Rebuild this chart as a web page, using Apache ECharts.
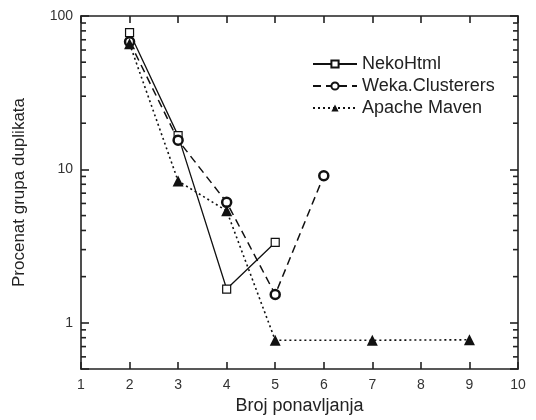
<!DOCTYPE html>
<html>
<head>
<meta charset="utf-8">
<script src="https://cdn.jsdelivr.net/npm/echarts@6/dist/echarts.min.js"></script>
<style>html,body{margin:0;padding:0;background:#fff}#c{width:536px;height:420px}</style>
</head>
<body>
<div id="c"></div>
<script>
var xTicks = [1, 2, 3, 4, 5, 6, 7, 8, 9, 10];
var yMajor = [1, 10, 100];
var yMinor = [0.6, 0.7, 0.8, 0.9, 2, 3, 4, 5, 6, 7, 8, 9, 20, 30, 40, 50, 60, 70, 80, 90];

var nekoX = [2, 3, 4, 5];
var nekoY = [78, 16.6, 1.66, 3.34];
var wekaX = [2, 3, 4, 5, 6];
var wekaY = [68, 15.5, 6.1, 1.53, 9.1];
var mavenX = [2, 3, 4, 5, 7, 9];
var mavenY = [66, 8.4, 5.37, 0.77, 0.77, 0.775];

function pairs(xs, ys) { return xs.map(function (x, i) { return [x, ys[i]]; }); }

var FONT = "'Liberation Sans', Arial, sans-serif";
var AX = '#222';

var chart = echarts.init(document.getElementById('c'));
var axisCommonX = {
  type: 'value', min: xTicks[0], max: xTicks[xTicks.length - 1], interval: 1,
  axisLine: { show: true, onZero: false, lineStyle: { color: AX, width: 1.6 } },
  axisTick: { show: true, inside: true, length: 7, lineStyle: { color: AX, width: 1.6 } },
  splitLine: { show: false }
};
var axisCommonY = {
  type: 'log', logBase: 10, min: 0.5, max: 100,
  axisLine: { show: true, lineStyle: { color: AX, width: 1.6 } },
  axisTick: { show: true, inside: true, length: 8, lineStyle: { color: AX, width: 1.6 } },
  splitLine: { show: false }
};

chart.setOption({
  animation: false,
  textStyle: { fontFamily: FONT },
  grid: { left: 81, right: 18, top: 16, bottom: 49, containLabel: false },
  legend: {
    orient: 'vertical', left: 307, top: 50, itemWidth: 44, itemHeight: 9, itemGap: 4,
    textStyle: { fontFamily: FONT, fontSize: 18, color: '#222', padding: [0, 0, 0, 0] },
    data: ['NekoHtml', 'Weka.Clusterers', 'Apache Maven']
  },
  xAxis: [
    Object.assign({}, axisCommonX, {
      position: 'bottom',
      axisLabel: { show: true, fontSize: 14, color: '#333', margin: 9, fontFamily: FONT },
      name: 'Broj ponavljanja', nameLocation: 'middle', nameGap: 28,
      nameTextStyle: { fontSize: 18, color: '#222', fontFamily: FONT }
    }),
    Object.assign({}, axisCommonX, { position: 'top', axisLabel: { show: false } })
  ],
  yAxis: [
    Object.assign({}, axisCommonY, {
      position: 'left',
      axisLabel: {
        show: true, fontSize: 14, color: '#333', margin: 8, fontFamily: FONT,
        formatter: function (v) {
          for (var i = 0; i < yMajor.length; i++) if (Math.abs(v - yMajor[i]) < 1e-6 * yMajor[i]) return String(yMajor[i]);
          return '';
        }
      },
      name: 'Procenat grupa duplikata', nameLocation: 'middle', nameGap: 53,
      nameTextStyle: { fontSize: 17, color: '#222', fontFamily: FONT }
    }),
    Object.assign({}, axisCommonY, { position: 'right', axisLabel: { show: false } })
  ],
  series: [
    {
      name: 'NekoHtml', type: 'line', data: pairs(nekoX, nekoY),
      symbol: 'rect', symbolSize: 8, z: 3,
      lineStyle: { color: '#111', width: 1.3, type: 'solid' },
      itemStyle: { color: '#fff', borderColor: '#111', borderWidth: 1.2 }
    },
    {
      name: 'Weka.Clusterers', type: 'line', data: pairs(wekaX, wekaY),
      symbol: 'circle', symbolSize: 9, z: 4,
      lineStyle: { color: '#111', width: 1.5, type: [8, 5] },
      itemStyle: { color: '#fff', borderColor: '#111', borderWidth: 2.5 }
    },
    {
      name: 'Apache Maven', type: 'line', data: pairs(mavenX, mavenY),
      symbol: 'triangle', symbolSize: 11, z: 5,
      lineStyle: { color: '#111', width: 1.6, type: [2, 3] },
      itemStyle: { color: '#111' }
    },
    {
      type: 'custom', silent: true, z: 10, clip: false,
      data: yMinor.map(function (v) { return [xTicks[0], v]; }),
      renderItem: function (params, api) {
        var v = api.value(1);
        var pL = api.coord([xTicks[0], v]);
        var pR = api.coord([xTicks[xTicks.length - 1], v]);
        var st = { stroke: AX, lineWidth: 1.6 };
        return {
          type: 'group',
          children: [
            { type: 'line', shape: { x1: pL[0], y1: pL[1], x2: pL[0] + 5, y2: pL[1] }, style: st },
            { type: 'line', shape: { x1: pR[0], y1: pR[1], x2: pR[0] - 5, y2: pR[1] }, style: st }
          ]
        };
      }
    }
  ]
});
</script>
</body>
</html>
